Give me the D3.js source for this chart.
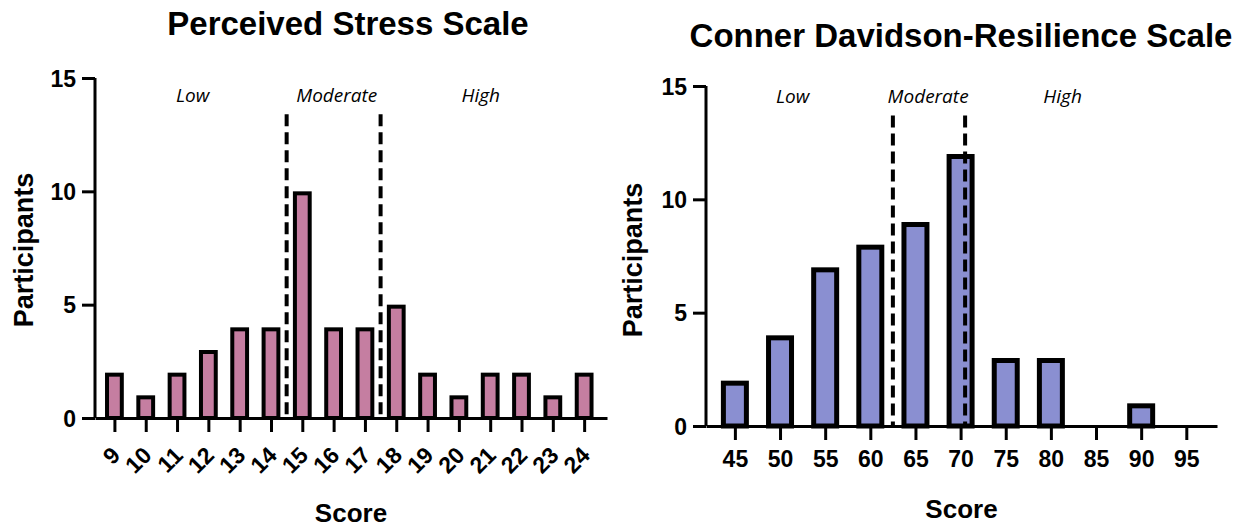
<!DOCTYPE html>
<html>
<head>
<meta charset="utf-8">
<script src="https://cdn.jsdelivr.net/npm/d3@7"></script>
<style>
  body { margin: 0; background: #fff; }
  svg text { font-family: "Liberation Sans", Arial, sans-serif; font-weight: bold; fill: #000; }
  svg text.band { font-family: "Open Sans", sans-serif; font-style: italic; font-weight: normal; font-size: 19px; }
</style>
</head>
<body>
<script>
// Perceived Stress Scale
var pssScores = [9, 10, 11, 12, 13, 14, 15, 16, 17, 18, 19, 20, 21, 22, 23, 24];
var pssCounts = [2, 1, 2, 3, 4, 4, 10, 4, 4, 5, 2, 1, 2, 2, 1, 2];
var pssCuts = [14.5, 17.5];

// Conner Davidson-Resilience Scale
var cdScores = [45, 50, 55, 60, 65, 70, 75, 80, 85, 90, 95];
var cdCounts = [2, 4, 7, 8, 9, 12, 3, 3, 0, 1, 0];
var cdCuts = [62.5, 70.5];

var yTicks = [0, 5, 10, 15];
var bandLabels = ["Low", "Moderate", "High"];

var svg = d3.select("body").append("svg")
  .attr("width", 1244)
  .attr("height", 528);

// draw one histogram panel
function drawPanel(opt) {
  var g = svg.append("g");
  var x = d3.scaleLinear().domain(opt.xDomain).range(opt.xRange);
  var y = d3.scaleLinear().domain([0, 15]).range(opt.yRange);
  var y0 = y(0);

  // bars
  g.selectAll("rect.bar")
    .data(opt.scores.map((s, i) => ({score: s, n: opt.counts[i]})).filter(d => d.n > 0))
    .enter().append("rect")
    .attr("class", "bar")
    .attr("x", d => x(d.score - opt.halfW) + opt.sw / 2)
    .attr("width", d => x(d.score + opt.halfW) - x(d.score - opt.halfW) - opt.sw)
    .attr("y", d => y(d.n) + opt.sw / 2)
    .attr("height", d => y0 - y(d.n) - opt.sw / 2)
    .attr("fill", opt.color)
    .attr("stroke", "#000")
    .attr("stroke-width", opt.sw);

  // dashed cut-off lines
  g.selectAll("line.cut")
    .data(opt.cuts).enter().append("line")
    .attr("x1", d => x(d)).attr("x2", d => x(d))
    .attr("y1", y(opt.cutTop)).attr("y2", y0)
    .attr("stroke", "#000")
    .attr("stroke-width", 4)
    .attr("stroke-dasharray", "12,6");

  // y axis
  var yAxis = d3.axisLeft(y).tickValues(yTicks).tickSize(13).tickPadding(6);
  var ya = g.append("g").attr("transform", "translate(" + opt.xRange[0] + ",0)").call(yAxis);
  ya.select(".domain").attr("stroke-width", 3).attr("d", "M0," + y(15) + "V" + y0);
  ya.selectAll(".tick line").attr("stroke-width", 3);
  ya.selectAll(".tick text").style("font-size", "23px").attr("dy", "0.36em");

  // x axis
  var xAxis = d3.axisBottom(x).tickValues(opt.scores).tickSize(14).tickSizeOuter(0);
  var xa = g.append("g").attr("transform", "translate(0," + y0 + ")").call(xAxis);
  xa.select(".domain").attr("stroke-width", 3);
  xa.selectAll(".tick line").attr("stroke-width", 3);
  if (opt.rotate) {
    xa.selectAll(".tick text")
      .style("font-size", "23px")
      .attr("text-anchor", "end")
      .attr("y", 0)
      .attr("dy", "0.72em")
      .attr("transform", "translate(-5,27) rotate(-45)");
  } else {
    xa.selectAll(".tick text").style("font-size", "23px").attr("y", 25).attr("dy", "0.71em");
  }

  // band labels
  g.selectAll("text.band")
    .data(bandLabels).enter().append("text")
    .attr("class", "band")
    .attr("x", (d, i) => x(opt.bandX[i]))
    .attr("y", opt.bandY)
    .attr("text-anchor", "middle")
    .text(d => d);

  var cx = (opt.xRange[0] + opt.xRange[1]) / 2;
  g.append("text")
    .attr("x", opt.titleX).attr("y", opt.titleY)
    .attr("text-anchor", "middle")
    .style("font-size", "33px")
    .text(opt.title);

  g.append("text")
    .attr("x", cx).attr("y", opt.scoreY)
    .attr("text-anchor", "middle")
    .style("font-size", "26px")
    .text("Score");

  g.append("text")
    .attr("transform", "translate(" + opt.partX + "," + opt.partY + ") rotate(-90)")
    .attr("text-anchor", "middle")
    .style("font-size", "27px")
    .text("Participants");
}

drawPanel({
  scores: pssScores, counts: pssCounts, cuts: pssCuts, cutTop: 13.4,
  xDomain: [8.38, 24.73], xRange: [95, 607], yRange: [418, 78],
  halfW: 0.3, sw: 4, color: "#c57ea1", rotate: true,
  bandX: [11.5, 16.1, 20.7], bandY: 102,
  title: "Perceived Stress Scale", titleX: 348, titleY: 35,
  scoreY: 522, partX: 33, partY: 250
});

drawPanel({
  scores: cdScores, counts: cdCounts, cuts: cdCuts, cutTop: 13.7,
  xDomain: [41.8, 98.4], xRange: [706, 1217], yRange: [426, 86],
  halfW: 1.55, sw: 5, color: "#8a8fd1", rotate: false,
  bandX: [51.4, 66.4, 81.3], bandY: 103,
  title: "Conner Davidson-Resilience Scale", titleX: 961, titleY: 47,
  scoreY: 518, partX: 642, partY: 260
});
</script>
</body>
</html>
